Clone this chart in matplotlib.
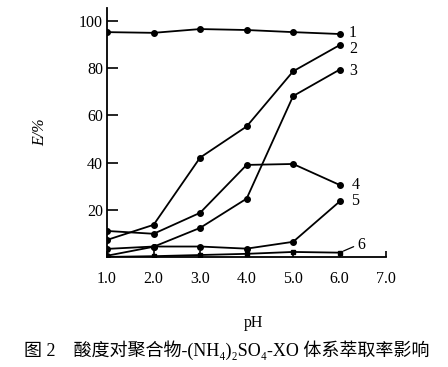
import matplotlib
matplotlib.use("Agg")
import matplotlib.pyplot as plt

# data (pH vs extraction rate E/%)
ph = [1.0, 2.0, 3.0, 4.0, 5.0, 6.0]
s1 = [95.3, 95.0, 96.6, 96.2, 95.3, 94.5]
s2 = [7.2, 13.6, 42.1, 55.3, 78.7, 89.8]
s3 = [0.5, 4.3, 12.3, 24.7, 68.2, 79.4]
s4 = [11.0, 9.8, 18.7, 39.0, 39.4, 30.5]
s5 = [3.4, 4.4, 4.4, 3.5, 6.4, 23.5]
s6 = [0.0, 0.3, 0.8, 1.3, 2.1, 1.8]
series = [s1, s2, s3, s4, s5, s6]
labels = ["1", "2", "3", "4", "5", "6"]
xticks = [1.0, 2.0, 3.0, 4.0, 5.0, 6.0, 7.0]
yticks = [20, 40, 60, 80, 100]

plt.rcParams['font.family'] = ['Liberation Serif', 'Noto Sans CJK SC', 'DejaVu Sans']

fig = plt.figure(figsize=(4.48, 3.67), dpi=100)
ax = fig.add_axes([0.239, 0.300, 0.623, 0.678])

for i, s in enumerate(series):
    ax.plot(ph, s, color='black', lw=1.3, marker='o' if i < 5 else 's',
            ms=4 if i < 5 else 3.2, mfc='black', mec='black')

# curve labels next to the last point
offsets = [(9, 1), (10, -4), (10, -1), (12, 0), (11, 0), (18, 8)]
for s, lab, off in zip(series, labels, offsets):
    ax.annotate(lab, (ph[-1], s[-1]), xytext=off, textcoords='offset pixels',
                ha='left', va='center', fontsize=11.5)
# small leader line for curve 6
ax.annotate("", (ph[-1], s6[-1]), xytext=(14, 6), textcoords='offset pixels',
            arrowprops=dict(arrowstyle='-', lw=0.9, color='black',
                            shrinkA=0, shrinkB=3))

ax.set_xlim(1.0, 7.0)
ax.set_ylim(0, 105.5)
ax.set_xticks(xticks)
ax.set_xticklabels([f"{t:.1f}" for t in xticks])
ax.set_yticks(yticks)
ax.tick_params(axis='y', direction='in', length=8, width=1.2, labelsize=11.5, pad=3)
ax.tick_params(axis='x', direction='in', length=4, width=1.2, labelsize=11.5, pad=10)
for sp in ['top', 'right']:
    ax.spines[sp].set_visible(False)
for sp in ['left', 'bottom']:
    ax.spines[sp].set_linewidth(1.3)

ax.set_ylabel("E/%", fontsize=11.5, labelpad=22, style='italic')
fig.text(0.565, 0.12, "pH", ha='center', va='center', fontsize=11.5)
fig.text(0.505, 0.045, "图 2    酸度对聚合物-(NH₄)₂SO₄-XO 体系萃取率影响",
         ha='center', va='center', fontsize=13)

fig.savefig("out.png", dpi=100)
